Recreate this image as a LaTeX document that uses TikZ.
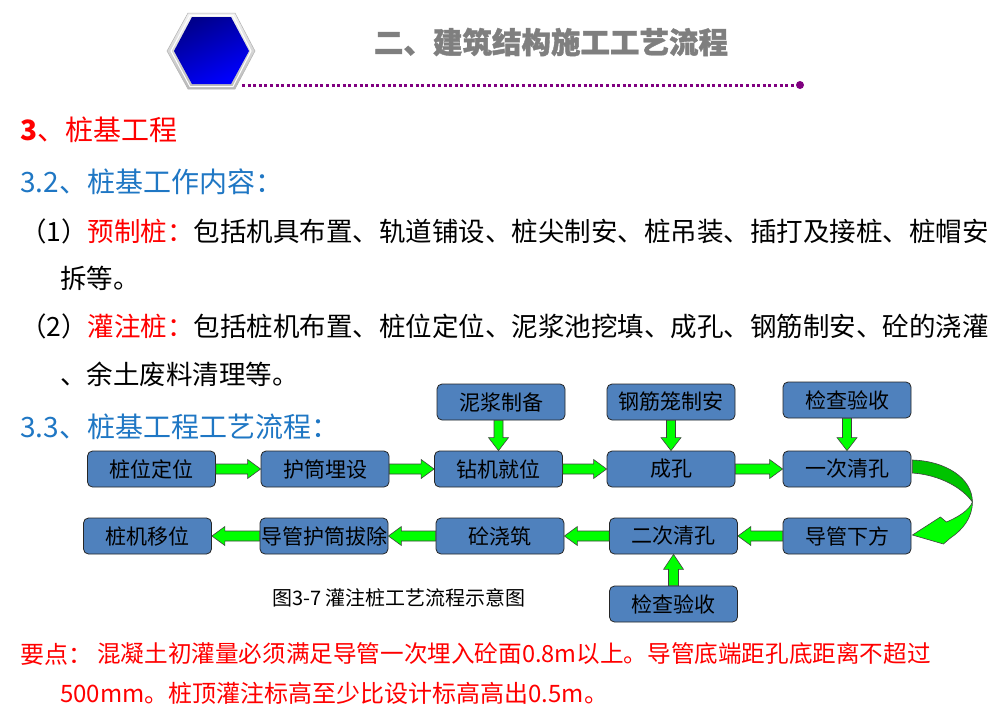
\documentclass[tikz,border=0pt]{standalone}
\usepackage{fontspec}
\setmainfont{Noto Sans CJK SC}
\newfontfamily\titlefont{Noto Sans CJK SC}[BoldFeatures={FakeBold=1.2}]
\usetikzlibrary{calc}
\definecolor{boxblue}{RGB}{79,129,189}
\definecolor{agreen}{RGB}{0,255,0}
\definecolor{dgreen}{RGB}{0,195,0}
\definecolor{tblue}{RGB}{31,119,196}
\definecolor{tred}{RGB}{255,0,0}
\definecolor{tgray}{RGB}{127,127,127}
\definecolor{dotpurple}{RGB}{128,0,128}
\definecolor{hexdark}{RGB}{0,0,140}
\definecolor{hexlight}{RGB}{0,0,255}
\newcommand{\myfs}[1]{\fontsize{#1}{#1}\selectfont}
\newcommand{\RArrow}[2]{\draw[garrow] ($(#1.east)+(0,-5)$) -- ($(#2.west)+(-13,-5)$) -- ($(#2.west)+(-13,-9.5)$) -- (#2.west) -- ($(#2.west)+(-13,9.5)$) -- ($(#2.west)+(-13,5)$) -- ($(#1.east)+(0,5)$) -- cycle;}
\newcommand{\LArrow}[2]{\draw[garrow] ($(#1.west)+(0,-5)$) -- ($(#2.east)+(13,-5)$) -- ($(#2.east)+(13,-9.5)$) -- (#2.east) -- ($(#2.east)+(13,9.5)$) -- ($(#2.east)+(13,5)$) -- ($(#1.west)+(0,5)$) -- cycle;}
\newcommand{\DArrow}[2]{\draw[garrow] ($(#1.south -| #2.north)+(-4.5,0)$) -- ($(#2.north)+(-4.5,-13)$) -- ($(#2.north)+(-10,-13)$) -- (#2.north) -- ($(#2.north)+(10,-13)$) -- ($(#2.north)+(4.5,-13)$) -- ($(#1.south -| #2.north)+(4.5,0)$) -- cycle;}
\newcommand{\UArrow}[2]{\draw[garrow] ($(#1.north -| #2.south)+(-5,0)$) -- ($(#2.south)+(-5,15)$) -- ($(#2.south)+(-10,15)$) -- (#2.south) -- ($(#2.south)+(10,15)$) -- ($(#2.south)+(5,15)$) -- ($(#1.north -| #2.south)+(5,0)$) -- cycle;}
\tikzset{
  flow/.style={draw=black!85, line width=0.8pt, fill=boxblue, rounded corners=5pt,
    minimum width=128pt, minimum height=36pt, inner sep=0pt, font=\myfs{21}},
  garrow/.style={fill=agreen, draw=black!75, line width=0.6pt, line join=miter},
  txt/.style={anchor=west, inner sep=0pt, font=\myfs{26.5}},
}
\begin{document}
\begin{tikzpicture}[x=1pt,y=-1pt]
\useasboundingbox (0,0) rectangle (993,710);
\fill[white] (0,0) rectangle (993,710);

% header hexagon
\shade[top color=gray!10, bottom color=gray!55, draw=gray!60, line width=0.5pt]
  (167,51) -- (188,13) -- (235,13) -- (255,51) -- (235,89) -- (188,89) -- cycle;
\draw[white, line width=1pt] (171,51) -- (190,15.5) -- (233,15.5) -- (251,51) -- (233,86.5) -- (190,86.5) -- cycle;
\shade[shading=axis, top color=hexdark, bottom color=hexlight, shading angle=25]
  (174,51) -- (192,17) -- (231,17) -- (249,51) -- (231,84) -- (192,84) -- cycle;

\node[font=\titlefont\myfs{29.5}\bfseries, text=tgray] (title) at (551,42) {二、建筑结构施工工艺流程};
\node[circle, fill=dotpurple, inner sep=0pt, minimum size=8pt] (enddot) at (800,85) {};
\draw[dotpurple, line width=3pt, dash pattern=on 3pt off 2.6pt] (242,85) -- (enddot.west);

% texts
\node[txt, font=\myfs{28}, text=tred] (h3) at (20,130) {\textbf{3}、桩基工程};
\node[txt, font=\myfs{28}, text=tblue] (h32) at (20,182) {3.2、桩基工作内容：};
\node[txt] (p1) at (20,231) {（1）\textcolor{tred}{预制桩：}包括机具布置、轨道铺设、桩尖制安、桩吊装、插打及接桩、桩帽安};
\node[txt] (p1b) at (60,278) {拆等。};
\node[txt] (p2) at (20,326) {（2）\textcolor{tred}{灌注桩：}包括桩机布置、桩位定位、泥浆池挖填、成孔、钢筋制安、砼的浇灌};
\node[txt] (p2b) at (60,374) {、余土废料清理等。};
\node[txt, font=\myfs{28}, text=tblue] (h33) at (20,427) {3.3、桩基工程工艺流程：};

% flow boxes
\node[flow] (n1) at (151.5,469) {桩位定位};
\node[flow] (n2) at (325,469) {护筒埋设};
\node[flow] (n3) at (498.5,469) {钻机就位};
\node[flow] (n4) at (671,469) {成孔};
\node[flow] (n5) at (847,469) {一次清孔};
\node[flow] (t3) at (501,402) {泥浆制备};
\node[flow] (t4) at (671,402) {钢筋笼制安};
\node[flow] (t5) at (847,400) {检查验收};
\node[flow] (m1) at (147.5,536) {桩机移位};
\node[flow] (m2) at (324,536) {导管护筒拔除};
\node[flow] (m3) at (500,536) {砼浇筑};
\node[flow] (m4) at (673.5,536) {二次清孔};
\node[flow] (m5) at (847,536) {导管下方};
\node[flow] (b4) at (673.5,604) {检查验收};

% straight arrows
\RArrow{n1}{n2}
\RArrow{n2}{n3}
\RArrow{n3}{n4}
\RArrow{n4}{n5}
\DArrow{t3}{n3}
\DArrow{t4}{n4}
\DArrow{t5}{n5}
\LArrow{m5}{m4}
\LArrow{m4}{m3}
\LArrow{m3}{m2}
\LArrow{m2}{m1}
\UArrow{b4}{m4}

% curved arrow from n5 to m5
\coordinate (cs1) at ($(n5.east)+(1,-9)$);
\coordinate (cs2) at ($(n5.east)+(1,4)$);
\coordinate (cm) at ($(n5.east)+(61,33)$);
\coordinate (ct) at ($(m5.east)+(1,-1)$);
\coordinate (cu) at ($(m5.east)+(29,-19)$);
\coordinate (cl) at ($(m5.east)+(32,8)$);
\coordinate (cbi) at ($(m5.east)+(35,-14)$);
\coordinate (cbo) at ($(m5.east)+(39,2)$);
\draw[fill=agreen, draw=black!75, line width=0.6pt, line join=miter]
  (cm) .. controls ($(cm)+(0,16)$) and ($(cbo)+(12,-8)$) .. (cbo) -- (cl) -- (ct) -- (cu) -- (cbi)
  .. controls ($(cbi)+(12,-5)$) and ($(cm)+(-3,8)$) .. (cm) -- cycle;
\draw[fill=dgreen, draw=black!75, line width=0.6pt]
  (cs1) .. controls ($(cs1)+(33,1)$) and ($(cm)+(0,-24)$) .. (cm)
  .. controls ($(cm)+(-10,-14)$) and ($(cs2)+(28,2)$) .. (cs2) -- cycle;

\node[font=\myfs{20}] (cap) at (399,598) {图3-7 灌注桩工艺流程示意图};

% key points
\node[txt, font=\myfs{24}, text=tred] (kp) at (20,654) {要点：};
\node[txt, font=\myfs{23.6}, text=tred] (kp1) at (97,654) {混凝土初灌量必须满足导管一次埋入砼面0.8m以上。导管底端距孔底距离不超过};
\node[txt, font=\myfs{24}, text=tred] (kp2) at (60,693) {500mm。桩顶灌注标高至少比设计标高高出0.5m。};
\end{tikzpicture}
\end{document}
